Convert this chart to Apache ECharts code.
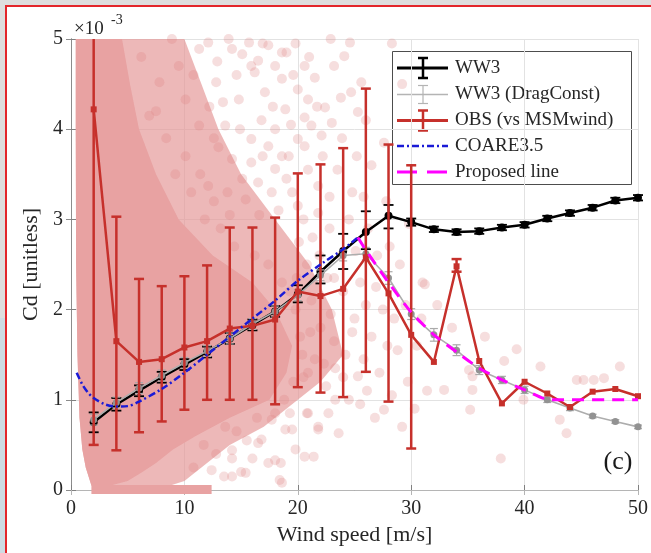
<!DOCTYPE html>
<html>
<head>
<meta charset="utf-8">
<script src="https://cdn.jsdelivr.net/npm/echarts@6/dist/echarts.min.js"></script>
<style>
  html, body { margin: 0; padding: 0; width: 651px; height: 553px; overflow: hidden; background: #dedede; }
  #leftStrip { position: absolute; left: 0; top: 318px; width: 5px; height: 240px; background: #cddbe3; }
  #frame { position: absolute; left: 5px; top: 5px; width: 700px; height: 600px;
           border-left: 2px solid #e3262b; border-top: 2px solid #e3262b; background: #fff; }
  #chart { position: absolute; left: 0; top: 0; width: 651px; height: 553px; }
</style>
</head>
<body>
<div id="leftStrip"></div>
<div id="frame"></div>
<div id="chart"></div>
<script>
// ---- bin-averaged drag coefficients (x 10^-3) against wind speed ----
const windX = [2, 4, 6, 8, 10, 12, 14, 16, 18, 20, 22, 24, 26, 28, 30, 32, 34, 36, 38, 40, 42, 44, 46, 48, 50];

const ww3Cd = [0.75, 0.95, 1.10, 1.25, 1.39, 1.53, 1.68, 1.83, 1.98, 2.17, 2.42, 2.65, 2.86, 3.04, 2.97, 2.89, 2.86, 2.87, 2.91, 2.94, 3.01, 3.07, 3.13, 3.21, 3.24];
const ww3Lo = [0.64, 0.88, 1.04, 1.19, 1.33, 1.47, 1.62, 1.77, 1.92, 2.08, 2.29, 2.45, 2.67, 2.90, 2.93, 2.86, 2.83, 2.84, 2.88, 2.91, 2.98, 3.04, 3.10, 3.18, 3.21];
const ww3Hi = [0.86, 1.02, 1.16, 1.31, 1.45, 1.59, 1.74, 1.89, 2.04, 2.27, 2.60, 2.84, 3.09, 3.16, 3.01, 2.92, 2.89, 2.90, 2.94, 2.97, 3.04, 3.10, 3.16, 3.24, 3.27];

const dragCd = [0.78, 0.97, 1.13, 1.27, 1.41, 1.54, 1.68, 1.84, 1.98, 2.16, 2.38, 2.60, 2.62, 2.35, 1.95, 1.72, 1.55, 1.33, 1.22, 1.11, 1.00, 0.91, 0.82, 0.76, 0.70];
const dragLo = [0.72, 0.91, 1.07, 1.21, 1.35, 1.48, 1.62, 1.78, 1.92, 2.10, 2.32, 2.54, 2.55, 2.28, 1.89, 1.65, 1.49, 1.28, 1.18, 1.07, 0.97, 0.88, 0.80, 0.74, 0.68];
const dragHi = [0.84, 1.03, 1.19, 1.33, 1.47, 1.60, 1.74, 1.90, 2.04, 2.22, 2.44, 2.66, 2.69, 2.42, 2.01, 1.79, 1.61, 1.38, 1.26, 1.15, 1.03, 0.94, 0.84, 0.78, 0.72];

const obsCd = [4.22, 1.65, 1.42, 1.45, 1.58, 1.65, 1.79, 1.82, 1.89, 2.20, 2.15, 2.23, 2.58, 2.18, 1.72, 1.42, 2.48, 1.43, 0.96, 1.20, 1.07, 0.92, 1.09, 1.12, 1.04];
const obsLo = [0.50, 0.44, 0.64, 0.76, 0.89, 1.00, 1.00, 1.00, 0.95, 1.14, 1.08, 1.03, 1.31, 0.98, 0.46, null, 2.42, null, null, null, null, null, null, null, null];
const obsHi = [7.00, 3.03, 2.34, 2.26, 2.37, 2.49, 2.91, 2.91, 3.02, 3.51, 3.61, 3.79, 4.45, 3.83, 3.60, null, 2.56, null, null, null, null, null, null, null, null];

// bulk formula curve
const coareX  = [0.5, 1, 1.5, 2, 3, 4, 5, 6, 8, 10, 12, 14, 16, 18, 20, 22, 24, 25.3];
const coareCd = [1.30, 1.17, 1.08, 1.02, 0.95, 0.925, 0.93, 0.98, 1.12, 1.30, 1.50, 1.70, 1.90, 2.10, 2.32, 2.50, 2.67, 2.80];

// proposed high-wind relation
const proposedX  = [25.3, 26, 28, 30, 32, 34, 36, 38, 40, 42.2, 50];
const proposedCd = [2.80, 2.66, 2.30, 1.97, 1.72, 1.53, 1.35, 1.22, 1.11, 1.00, 1.00];

// individual observations: saturated core, mottled halo, the zero row, and sparse samples
const obsCorePoly = [[0.42,5.0],[4.5,5.0],[5.2,4.5],[6,4.0],[7.5,3.5],[9.5,3.0],[12.5,2.6],[16,2.3],[18,2.0],[19.5,1.6],[19,1.3],[17.5,1.0],[14,0.8],[11,0.6],[9,0.45],[7.5,0.3],[6.3,0.2],[5,0.1],[3.5,0.05],[1.8,0.05],[1.3,0.25],[1.0,0.45],[0.75,0.8],[0.57,1.5],[0.45,2.5],[0.42,4.0]];
const obsHaloPoly = [[0.42,5.0],[10,5.0],[11.5,4.5],[13,4.0],[15,3.5],[18,3.0],[21,2.5],[23,2.0],[24,1.5],[22,1.2],[20,1.0],[17,0.7],[14,0.5],[12,0.3],[10,0.1],[8,0.02],[3.5,0.05],[1.8,0.05],[1.3,0.25],[1.0,0.45],[0.75,0.8],[0.57,1.5],[0.45,2.5],[0.42,4.0]];
const obsZeroRow = [[1.8,-0.045],[12.4,-0.045],[12.4,0.055],[1.8,0.055]];
const obsSamples = [
  [12.1,4.96],[13.9,5.0],[15.7,4.96],[17.4,4.93],[19.0,4.85],[15.1,4.83],[16.5,4.76],[18.0,4.70],[16.2,4.63],[18.6,4.56],
  [20.0,4.44],[21.5,4.57],[24.1,4.81],[24.7,4.41],[25.3,4.19],[22.4,4.24],[20.6,4.13],[20.0,3.89],[22.1,3.93],[17.4,3.81],
  [19.2,3.70],[15.9,3.63],[18.0,3.56],[16.5,3.41],[14.2,4.89],[15.9,4.7],[18.6,4.85],[12.8,4.52],[14.8,4.33],[17.1,4.41],
  [18.9,4.22],[20.9,4.33],[13.6,4.04],[15.9,3.89],[18.0,4.0],[21.2,4.04],[14.2,3.67],[18.6,3.7],[20.6,3.81],[21.8,3.37],
  [17.7,3.3],[20.0,3.15],[21.8,3.07],[15.4,3.22],[12.1,3.37],[10.1,3.7],[11.3,4.04],[10.1,4.33],[9.5,4.7],[11.3,4.89],
  [8.9,5.0],[7.8,4.52],[6.9,4.15],[23.0,4.07],[22.2,3.7],[24.6,4.96],[25.6,4.52],[27.6,3.85],[28.3,4.95],[29.2,4.5],
  [26.5,3.6],[24.8,3.3],[23.5,3.55],[26.0,4.1],[23.2,4.7],[19.8,4.95],[21.0,4.8],
  [10.8,4.6],[12.9,4.75],[13.4,4.3],[14.6,4.6],[16.9,4.95],[17.8,4.25],[19.6,4.6],[20.6,4.7],[22.9,5.0],[23.8,4.35],
  [21.7,4.25],[19.4,4.05],[16.8,4.1],[14.9,4.0],[12.2,4.25],[13.0,3.8],[15.1,3.45],[16.9,3.7],[19.0,3.45],[20.9,3.55],
  [22.8,3.25],[23.9,3.9],[25.2,3.7],[18.3,3.1],[16.6,3.05],[14.0,3.05],[11.4,3.5],[12.6,3.9],
  [19.5,3.3],[20.5,3.0],[21.3,2.8],[22.8,2.9],[23.8,2.6],[24.5,3.0],[25.5,2.3],[26.2,2.9],[27.0,2.6],[27.5,2.0],
  [28.5,1.9],[29.0,2.5],[26.5,1.7],[25.0,1.9],[24.2,1.5],[22.0,1.8],[21.5,1.45],[20.2,1.7],[19.3,2.2],[20.8,2.5],
  [23.2,2.35],[25.8,1.45],[27.2,1.3],[28.8,1.55],[29.7,1.2],[30.5,1.6],[31.0,2.3],[32.3,2.05],[31.4,1.1],[30.3,0.9],
  [28.3,1.05],[26.8,0.8],[27.6,0.89],[25.3,1.26],[23.6,0.63],[24.5,1.0],[22.7,0.85],[21.8,0.67],[20.8,0.85],[21.4,0.37],
  [19.5,0.67],[18.4,0.11],[18.5,0.3],[17.7,0.78],[16.8,0.56],[17.4,0.30],[16.0,0.35],[15.0,0.2],[14.2,0.35],[13.5,0.15],
  [19.8,0.45],[15.5,0.55],[20.5,1.25],[22.5,1.15],[18.8,1.0],[23.3,1.35],
  [20.1,2.75],[21.9,2.6],[22.6,2.35],[24.0,2.2],[25.1,2.65],[26.9,2.25],[28.1,2.7],[29.5,2.05],[27.9,1.6],[26.0,2.05],
  [24.8,1.75],[23.2,1.65],[21.2,2.1],[22.9,1.95],[19.9,2.35],[21.1,1.75],[20.9,1.3],[22.3,1.4],[24.0,1.25],[26.1,1.1],
  [25.5,0.95],[23.3,1.0],[19.3,0.85],[29.2,0.7],[30.9,1.9],[29.8,2.95],[27.8,3.2],[25.8,3.25],
  [14.2,0.44],[16.5,0.52],[18.9,0.67],[20.9,0.85],[12.4,0.22],[15.4,0.19],[18.0,0.33],[18.6,0.08],[14.2,0.15],[20.6,0.37],[21.8,0.7],
  [31.2,2.28],[32.9,1.11],[35.2,0.89],[35.1,1.33],[35.4,1.26],[35.4,1.11],[37.9,0.35],[38.2,1.43],[39.3,1.56],[39.9,1.0],
  [41.4,1.37],[43.1,0.78],[43.7,0.63],[44.6,1.22],[45.2,1.22],[46.1,1.22],[47.0,1.24],[48.4,1.37],[36.5,1.7],[33.6,1.8],
  [6.2,4.8],[7.5,4.2],[8.4,3.9],[9.2,3.5],[10.6,3.3],[11.8,3.0],[13.2,2.9],[14.4,2.7],[12.6,3.2],[13.8,3.3],
  [16.2,2.6],[17.4,2.5],[18.6,2.3],[19.8,2.0],[20.4,1.5],[19.6,1.2],[18.0,0.85],[16.4,0.8],[14.6,0.65],[12.8,0.4],
  [10.8,0.25],[11.7,0.5],[13.6,0.7]
];

const Y_MAX = 5;
const SERIF = 'Liberation Serif';

const pairs = (xs, ys) => xs.map((x, i) => [x, ys[i]]);
const triples = (xs, lo, hi) => xs.map((x, i) => [x, lo[i], hi[i]]).filter(d => d[1] != null);

function polygonSeries(poly, fill, z) {
  return {
    type: 'custom', z: z, silent: true, clip: false,
    data: [0],
    renderItem: (params, api) => ({
      type: 'polygon',
      shape: { points: poly.map(p => api.coord(p)) },
      style: { fill: fill }
    })
  };
}

function errorBarSeries(data, color, width, capHalf, z) {
  return {
    type: 'custom', z: z, silent: true,
    data: data,
    encode: { x: 0, y: [1, 2] },
    renderItem: (params, api) => {
      const x = api.value(0), lo = api.value(1), hi = api.value(2);
      const pLo = api.coord([x, lo]);
      const pHi = api.coord([x, Math.min(hi, Y_MAX)]);
      const st = { stroke: color, lineWidth: width };
      const kids = [
        { type: 'line', shape: { x1: pLo[0], y1: pLo[1], x2: pHi[0], y2: pHi[1] }, style: st },
        { type: 'line', shape: { x1: pLo[0] - capHalf, y1: pLo[1], x2: pLo[0] + capHalf, y2: pLo[1] }, style: st }
      ];
      if (hi <= Y_MAX) {
        kids.push({ type: 'line', shape: { x1: pHi[0] - capHalf, y1: pHi[1], x2: pHi[0] + capHalf, y2: pHi[1] }, style: st });
      }
      return { type: 'group', children: kids };
    }
  };
}

// legend drawn as a boxed key in the upper right of the axes
const RED = '#c6302b', BLACK = '#000000', BLUE = '#1a1ad6', MAGENTA = '#ff00ff';
function iBeam(cx, cy, half, color, w) {
  return [
    { type: 'line', shape: { x1: cx, y1: cy - half, x2: cx, y2: cy + half }, style: { stroke: color, lineWidth: w } },
    { type: 'line', shape: { x1: cx - 5, y1: cy - half, x2: cx + 5, y2: cy - half }, style: { stroke: color, lineWidth: w } },
    { type: 'line', shape: { x1: cx - 5, y1: cy + half, x2: cx + 5, y2: cy + half }, style: { stroke: color, lineWidth: w } }
  ];
}
const legendRows = [17, 43.5, 69.5, 95, 121];
const legendText = ['WW3', 'WW3 (DragConst)', 'OBS (vs MSMwind)', 'COARE3.5', 'Proposed line'];
const legendChildren = [
  { type: 'rect', shape: { x: 0.5, y: 0.5, width: 239, height: 133 }, style: { fill: '#fff', stroke: '#4d4d4d', lineWidth: 1 } },
  { type: 'line', shape: { x1: 5, y1: legendRows[0], x2: 56, y2: legendRows[0] }, style: { stroke: BLACK, lineWidth: 3 } },
  ...iBeam(31, legendRows[0], 10, BLACK, 2.5),
  { type: 'line', shape: { x1: 5, y1: legendRows[1], x2: 56, y2: legendRows[1] }, style: { stroke: '#b4b4b4', lineWidth: 1.5 } },
  ...iBeam(31, legendRows[1], 9, '#b4b4b4', 1.2),
  { type: 'line', shape: { x1: 5, y1: legendRows[2], x2: 56, y2: legendRows[2] }, style: { stroke: RED, lineWidth: 3 } },
  ...iBeam(31, legendRows[2], 10, RED, 2.5),
  { type: 'line', shape: { x1: 5, y1: legendRows[3], x2: 56, y2: legendRows[3] }, style: { stroke: BLUE, lineWidth: 2.5, lineDash: [7, 3, 2, 3] } },
  { type: 'line', shape: { x1: 5, y1: legendRows[4], x2: 56, y2: legendRows[4] }, style: { stroke: MAGENTA, lineWidth: 3, lineDash: [20, 10] } }
];
legendText.forEach((t, i) => legendChildren.push({
  type: 'text', x: 63, y: legendRows[i],
  style: { text: t, fill: '#262626', font: '19px "' + SERIF + '"', verticalAlign: 'middle', align: 'left' }
}));

const chart = echarts.init(document.getElementById('chart'), null, { renderer: 'canvas' });

const axisText = { color: '#262626', fontFamily: SERIF, fontSize: 20 };

chart.setOption({
  animation: false,
  grid: { left: 71, right: 7, top: 39, bottom: 63 },
  xAxis: [
    {
      type: 'value', min: 0, max: 50, interval: 10,
      name: 'Wind speed [m/s]', nameLocation: 'middle', nameGap: 33,
      nameTextStyle: { color: '#262626', fontFamily: SERIF, fontSize: 22 },
      axisLine: { lineStyle: { color: '#808080', width: 1 } },
      axisTick: { inside: true, length: 5, lineStyle: { color: '#808080' } },
      axisLabel: Object.assign({ margin: 9 }, axisText),
      splitLine: { show: true, lineStyle: { color: '#e2e2e2', width: 1 } }
    },
    {
      type: 'value', position: 'top', min: 0, max: 50, interval: 10,
      axisLine: { show: true, lineStyle: { color: '#b5b5b5' } },
      axisTick: { show: true, inside: true, length: 5, lineStyle: { color: '#b5b5b5' } },
      axisLabel: { show: false }, splitLine: { show: false }
    }
  ],
  yAxis: [
    {
      type: 'value', min: 0, max: 5, interval: 1,
      name: 'Cd [unitless]', nameLocation: 'middle', nameGap: 19,
      nameTextStyle: { color: '#262626', fontFamily: SERIF, fontSize: 22 },
      axisLine: { show: true, lineStyle: { color: '#808080', width: 1 } },
      axisTick: { show: true, inside: true, length: 5, lineStyle: { color: '#808080' } },
      axisLabel: Object.assign({ margin: 8 }, axisText),
      splitLine: { show: true, lineStyle: { color: '#e2e2e2', width: 1 } }
    },
    {
      type: 'value', position: 'right', min: 0, max: 5, interval: 1,
      axisLine: { show: true, lineStyle: { color: '#8c8c8c' } },
      axisTick: { show: true, inside: true, length: 5, lineStyle: { color: '#8c8c8c' } },
      axisLabel: { show: false }, splitLine: { show: false }
    }
  ],
  graphic: [
    { type: 'text', x: 74, y: 29, z: 100, style: { text: '\u00d710', fill: '#262626', font: '19px "' + SERIF + '"', verticalAlign: 'middle' } },
    { type: 'text', x: 111, y: 20, z: 100, style: { text: '-3', fill: '#262626', font: '14px "' + SERIF + '"', verticalAlign: 'middle' } },
    { type: 'text', x: 618, y: 462, z: 100, style: { text: '(c)', fill: '#1a1a1a', font: '26px "' + SERIF + '"', align: 'center', verticalAlign: 'middle' } },
    { type: 'group', x: 392, y: 51, z: 100, children: legendChildren }
  ],
  series: [
    polygonSeries(obsHaloPoly, 'rgba(228,150,150,0.68)', 1),
    polygonSeries(obsCorePoly, '#e8a2a2', 1),
    polygonSeries(obsZeroRow, '#e8a2a2', 1),
    {
      type: 'scatter', z: 1, silent: true, symbol: 'circle', symbolSize: 10,
      itemStyle: { color: 'rgba(222,128,128,0.32)' },
      data: obsSamples
    },
    errorBarSeries(triples(windX, ww3Lo, ww3Hi), BLACK, 1.8, 5, 3),
    {
      name: 'WW3', type: 'line', z: 3, data: pairs(windX, ww3Cd),
      symbol: 'circle', symbolSize: 8, showSymbol: true,
      lineStyle: { color: BLACK, width: 2.5 }, itemStyle: { color: BLACK }
    },
    errorBarSeries(triples(windX, dragLo, dragHi), '#aaaaaa', 1.2, 4, 4),
    {
      name: 'WW3 (DragConst)', type: 'line', z: 4, data: pairs(windX, dragCd),
      symbol: 'circle', symbolSize: 7, showSymbol: true,
      lineStyle: { color: '#adadad', width: 1.6 }, itemStyle: { color: '#929292' }
    },
    errorBarSeries(triples(windX, obsLo, obsHi), RED, 2.5, 5, 5),
    {
      name: 'OBS (vs MSMwind)', type: 'line', z: 5, data: pairs(windX, obsCd),
      symbol: 'rect', symbolSize: 6, showSymbol: true,
      lineStyle: { color: RED, width: 2.5 }, itemStyle: { color: RED }
    },
    {
      name: 'COARE3.5', type: 'line', z: 6, data: pairs(coareX, coareCd), smooth: 0.3,
      showSymbol: false, lineStyle: { color: BLUE, width: 2.5, type: [7, 3, 2, 3] }
    },
    {
      name: 'Proposed line', type: 'line', z: 7, data: pairs(proposedX, proposedCd), smooth: 0.2,
      showSymbol: false, lineStyle: { color: MAGENTA, width: 3, type: [12, 8] }
    }
  ]
});
</script>
</body>
</html>
